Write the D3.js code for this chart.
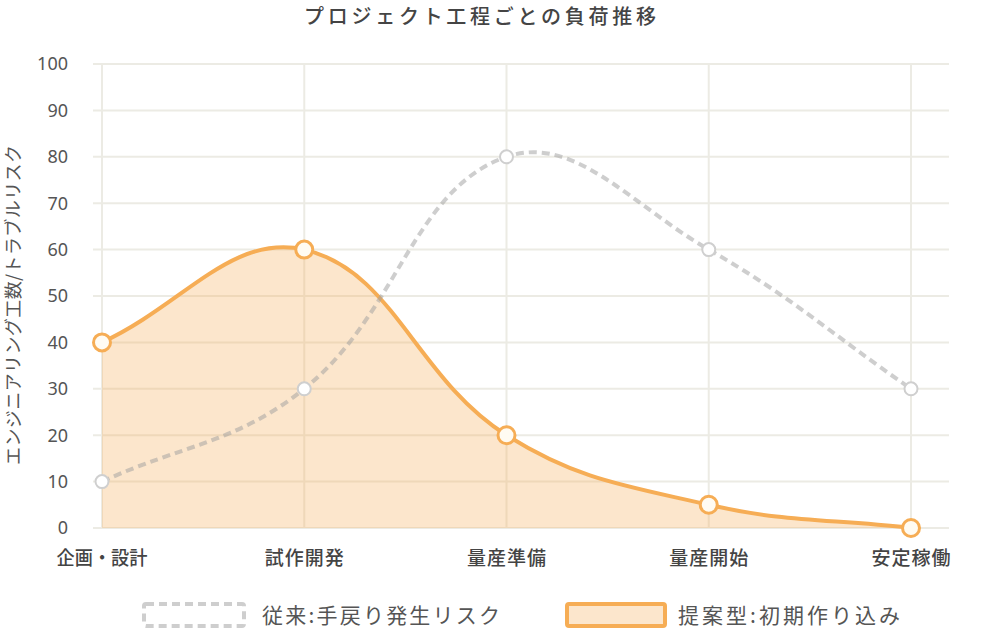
<!DOCTYPE html>
<html><head><meta charset="utf-8">
<script src="https://cdn.jsdelivr.net/npm/d3@7/dist/d3.min.js"></script>
<style>
html,body{margin:0;padding:0;background:#fff;}
svg text{font-family:"Noto Sans CJK JP","Noto Sans",sans-serif;}
svg text.num{font-family:"Noto Sans","Open Sans",sans-serif;}
</style></head>
<body><svg id="c" width="997" height="632"></svg>
<script>
const categories = ["企画・設計","試作開発","量産準備","量産開始","安定稼働"];
const legacyRisk = [10,30,80,60,30];
const proposedLoad = [40,60,20,5,0];
const yTicks = [0,10,20,30,40,50,60,70,80,90,100];
const seriesNames = ["従来:手戻り発生リスク","提案型:初期作り込み"];
const titleText = "プロジェクト工程ごとの負荷推移";
const yLabel = "エンジニアリング工数/トラブルリスク";

const svg = d3.select("#c");
const area = {left:102, right:911, top:64, bottom:528, gridRight:949};
const x = d3.scalePoint().domain(categories).range([area.left, area.right]);
const y = d3.scaleLinear().domain([0,100]).range([area.bottom, area.top]);

const gridColor = "#ecebe4";
const orange = "rgb(246,173,85)";
const orangeFill = "rgba(246,173,85,0.3)";
const grey = "rgba(158,158,158,0.5)";
const textColor = "#555";

function fit(sel, w){
  sel.each(function(){
    const len = this.getComputedTextLength();
    if(len > 0) d3.select(this).attr("textLength", w).attr("lengthAdjust", len > w ? "spacingAndGlyphs" : "spacing");
  });
  return sel;
}

// grid
const g = svg.append("g");
g.selectAll("line.h").data(yTicks).join("line")
  .attr("x1", area.left-9).attr("x2", area.gridRight)
  .attr("y1", d=>y(d)).attr("y2", d=>y(d))
  .attr("stroke", gridColor).attr("stroke-width", 2);
g.selectAll("line.v").data(categories).join("line")
  .attr("x1", d=>x(d)).attr("x2", d=>x(d))
  .attr("y1", area.top).attr("y2", area.bottom)
  .attr("stroke", gridColor).attr("stroke-width", 2);

// y tick labels
svg.append("g").selectAll("text").data(yTicks).join("text").attr("class","num")
  .attr("x", 68).attr("y", d=>y(d)).attr("dy","0.36em")
  .attr("text-anchor","end").attr("font-size",18).attr("fill",textColor)
  .text(d=>d);
// x labels
const xl = svg.append("g").selectAll("text").data(categories).join("text")
  .attr("x", d=>x(d)).attr("y", 558).attr("dy","0.36em")
  .attr("text-anchor","middle").attr("font-size",19).attr("font-weight",500).attr("fill","#444")
  .text(d=>d);
xl.each(function(d){ fit(d3.select(this), d.length === 5 ? 91 : 79); });

// Chart.js-like spline (tension 0.4)
function controlPoints(pts, t){
  const cps = [];
  for(let i=0;i<pts.length;i++){
    const cur = pts[i], prev = pts[i-1]||cur, next = pts[i+1]||cur;
    const d01 = Math.hypot(cur.x-prev.x, cur.y-prev.y);
    const d12 = Math.hypot(next.x-cur.x, next.y-cur.y);
    let s01 = d01/(d01+d12), s12 = d12/(d01+d12);
    if(isNaN(s01)) s01=0; if(isNaN(s12)) s12=0;
    const fa=t*s01, fb=t*s12;
    const clampX=v=>Math.max(area.left,Math.min(area.gridRight,v));
    const clampY=v=>Math.max(area.top,Math.min(area.bottom,v));
    cps.push({
      px: clampX(cur.x - fa*(next.x-prev.x)), py: clampY(cur.y - fa*(next.y-prev.y)),
      nx: clampX(cur.x + fb*(next.x-prev.x)), ny: clampY(cur.y + fb*(next.y-prev.y))
    });
  }
  return cps;
}
function splinePath(values, closeToZero){
  const pts = values.map((v,i)=>({x:x(categories[i]), y:y(v)}));
  const cps = controlPoints(pts, 0.4);
  const p = d3.path();
  p.moveTo(pts[0].x, pts[0].y);
  for(let i=1;i<pts.length;i++){
    p.bezierCurveTo(cps[i-1].nx, cps[i-1].ny, cps[i].px, cps[i].py, pts[i].x, pts[i].y);
  }
  if(closeToZero){
    p.lineTo(pts[pts.length-1].x, y(0));
    p.lineTo(pts[0].x, y(0));
    p.closePath();
  }
  return p.toString();
}

svg.append("path").attr("d", splinePath(proposedLoad, true)).attr("fill", orangeFill).attr("stroke","none");
svg.append("path").attr("d", splinePath(proposedLoad, false)).attr("fill","none")
  .attr("stroke", orange).attr("stroke-width",4).attr("stroke-linejoin","round");
svg.append("path").attr("d", splinePath(legacyRisk, false)).attr("fill","none")
  .attr("stroke", grey).attr("stroke-width",4).attr("stroke-dasharray","8,5");

svg.append("g").selectAll("circle").data(legacyRisk).join("circle")
  .attr("cx",(d,i)=>x(categories[i])).attr("cy",d=>y(d)).attr("r",6.5)
  .attr("fill","#fff").attr("stroke","#cfcfcf").attr("stroke-width",2);
svg.append("g").selectAll("circle").data(proposedLoad).join("circle")
  .attr("cx",(d,i)=>x(categories[i])).attr("cy",d=>y(d)).attr("r",8.5)
  .attr("fill","#fffbf2").attr("stroke",orange).attr("stroke-width",3);

// title
fit(svg.append("text").attr("x",480).attr("y",17).attr("dy","0.36em").attr("text-anchor","middle")
  .attr("font-size",20).attr("font-weight",500).attr("fill","#444").text(titleText), 352);

// y axis label
fit(svg.append("text").attr("transform","translate(14,305) rotate(-90)").attr("dy","0.36em")
  .attr("text-anchor","middle").attr("font-size",18).attr("fill",textColor).text(yLabel), 320);

// legend
const lg = svg.append("g");
lg.append("rect").attr("x",144).attr("y",604).attr("width",100).attr("height",22).attr("rx",2)
  .attr("fill","rgba(255,255,255,0)").attr("stroke",grey).attr("stroke-width",4).attr("stroke-dasharray","8,5");
fit(lg.append("text").attr("x",262).attr("y",615).attr("dy","0.36em").attr("font-size",21).attr("fill",textColor).text(seriesNames[0]), 238);
lg.append("rect").attr("x",567).attr("y",604).attr("width",98).attr("height",22).attr("rx",2)
  .attr("fill",orangeFill).attr("stroke",orange).attr("stroke-width",4);
fit(lg.append("text").attr("x",678).attr("y",615).attr("dy","0.36em").attr("font-size",21).attr("fill",textColor).text(seriesNames[1]), 222);
</script></body></html>
